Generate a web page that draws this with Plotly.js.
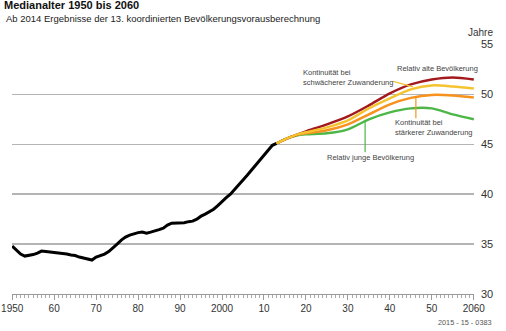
<!DOCTYPE html>
<html>
<head>
<meta charset="utf-8">
<script src="https://cdn.plot.ly/plotly-3.0.1.min.js"></script>
<style>html,body{margin:0;padding:0;background:#fff;}#chart{width:506px;height:331px;}</style>
</head>
<body>
<div id="chart"></div>
<script>
// Historical median age (black)
const histYears = [1950,1951,1952,1953,1954,1955,1956,1957,1958,1959,1960,1961,1962,1963,1964,1965,1966,1967,1968,1969,1970,1971,1972,1973,1974,1975,1976,1977,1978,1979,1980,1981,1982,1983,1984,1985,1986,1987,1988,1989,1990,1991,1992,1993,1994,1995,1996,1997,1998,1999,2000,2001,2002,2003,2004,2005,2006,2007,2008,2009,2010,2011,2012,2013];
const histValues = [34.8,34.4,34.0,33.8,33.85,33.95,34.1,34.3,34.25,34.2,34.15,34.1,34.1,34.0,33.9,33.85,33.7,33.6,33.5,33.4,33.7,33.85,34.0,34.25,34.6,35.0,35.4,35.7,35.9,36.05,36.15,36.2,36.1,36.2,36.3,36.45,36.6,36.9,37.1,37.1,37.1,37.15,37.25,37.3,37.5,37.8,38.0,38.25,38.5,38.85,39.3,39.65,40.0,40.45,40.9,41.4,41.9,42.4,42.9,43.4,43.95,44.45,44.9,45.1];

// Projections
const projYears = [2013,2015,2018,2020,2025,2030,2035,2040,2045,2050,2055,2060];
const oldPop    = [45.1,45.5,46.0,46.3,47.0,47.8,48.9,50.1,51.0,51.5,51.7,51.5];
const lowMig    = [45.1,45.5,46.0,46.2,46.7,47.4,48.6,49.6,50.5,50.9,50.8,50.6];
const highMig   = [45.1,45.5,45.95,46.1,46.4,47.0,48.0,49.0,49.65,49.95,49.9,49.7];
const youngPop  = [45.1,45.5,45.9,46.0,46.1,46.5,47.5,48.2,48.6,48.6,48.0,47.5];

const tickVals = [1950,1960,1970,1980,1990,2000,2010,2020,2030,2040,2050,2060];
const tickText = ["1950","60","70","80","90","2000","10","20","30","40","50","2060"];

const FONT = "'Liberation Sans', Arial, sans-serif";
const cRed = '#a3191d', cYellow = '#f4c430', cOrange = '#f7921e', cGreen = '#4cb748';

const traces = [
  {x: histYears, y: histValues, mode: 'lines', line: {color: '#000', width: 3}},
  {x: projYears, y: youngPop, mode: 'lines', line: {color: cGreen, width: 2.5, shape: 'spline', smoothing: 0.8}},
  {x: projYears, y: highMig, mode: 'lines', line: {color: cOrange, width: 2.5, shape: 'spline', smoothing: 0.8}},
  {x: projYears, y: oldPop, mode: 'lines', line: {color: cRed, width: 2.5, shape: 'spline', smoothing: 0.8}},
  {x: projYears, y: lowMig, mode: 'lines', line: {color: cYellow, width: 2.5, shape: 'spline', smoothing: 0.8}}
];

const layout = {
  width: 506, height: 331,
  margin: {l: 12, r: 32, t: 44, b: 37},
  paper_bgcolor: '#fff', plot_bgcolor: '#fff',
  showlegend: false,
  font: {family: FONT, color: '#333', size: 10},
  title: {text: '<b>Medianalter 1950 bis 2060</b>', x: 4/506, xanchor: 'left', xref: 'container',
          y: 1 - 5.5/331, yanchor: 'middle', yref: 'container',
          font: {family: FONT, size: 11, color: '#111'}},
  xaxis: {
    range: [1949.95, 2060.05], tickvals: tickVals, ticktext: tickText, ticklabeloverflow: 'allow',
    showgrid: false, zeroline: false, showline: true, linecolor: '#999', linewidth: 1,
    ticks: 'outside', ticklen: 5, tickcolor: '#999', tickwidth: 1,
    minor: {dtick: 1, tick0: 1950, ticks: 'outside', ticklen: 2.5, tickcolor: '#aaa', tickwidth: 1, showgrid: false},
    tickfont: {family: FONT, size: 10, color: '#333'}, fixedrange: true
  },
  yaxis: {
    range: [30, 55.05], side: 'right', tickvals: [30,35,40,45,50,55],
    showgrid: true, gridcolor: '#b4b4b4', gridwidth: 1.5, zeroline: false, showline: false,
    ticks: '', ticklabelstandoff: 6,
    tickfont: {family: FONT, size: 11, color: '#333'}, fixedrange: true
  },
  shapes: [
    {type: 'line', xref: 'x', yref: 'y', x0: 2040.8, y0: 51.3, x1: 2045.5, y1: 50.75, line: {color: cYellow, width: 1.2}},
    {type: 'line', xref: 'x', yref: 'y', x0: 2046.2, y0: 49.7, x1: 2046.2, y1: 47.6, line: {color: cOrange, width: 1.2}},
    {type: 'line', xref: 'x', yref: 'y', x0: 2034.1, y0: 47.3, x1: 2034.1, y1: 44.2, line: {color: cGreen, width: 1.2}}
  ],
  annotations: [
    {text: 'Ab 2014 Ergebnisse der 13. koordinierten Bevölkerungsvorausberechnung', xref: 'paper', yref: 'paper',
     x: -8/462, y: (294-19)/250, xanchor: 'left', yanchor: 'middle', showarrow: false,
     font: {family: FONT, size: 9.5, color: '#222'}},
    {text: 'Jahre', xref: 'paper', yref: 'paper', x: (495-12)/462, y: (294-33)/250, xanchor: 'right', yanchor: 'middle',
     showarrow: false, font: {family: FONT, size: 10, color: '#333'}},
    {text: 'Relativ alte Bevölkerung', xref: 'x', yref: 'y', x: 2060, y: 52.6, xanchor: 'right', yanchor: 'middle', xshift: 6,
     showarrow: false, font: {family: FONT, size: 7.5, color: '#444'}},
    {text: 'Kontinuität bei<br>schwächerer Zuwanderung', xref: 'x', yref: 'y', x: 2018.9, y: 51.7, xanchor: 'left', yanchor: 'middle',
     align: 'left', showarrow: false, font: {family: FONT, size: 7.5, color: '#444'}},
    {text: 'Kontinuität bei<br>stärkerer Zuwanderung', xref: 'x', yref: 'y', x: 2040.7, y: 46.7, xanchor: 'left', yanchor: 'middle',
     align: 'left', showarrow: false, font: {family: FONT, size: 7.5, color: '#444'}},
    {text: 'Relativ junge Bevölkerung', xref: 'x', yref: 'y', x: 2024.5, y: 43.7, xanchor: 'left', yanchor: 'middle',
     showarrow: false, font: {family: FONT, size: 7.5, color: '#444'}},
    {text: '2015 - 15 - 0383', xref: 'paper', yref: 'paper', x: (494-12)/462, y: (294-322)/250, xanchor: 'right', yanchor: 'middle',
     showarrow: false, font: {family: FONT, size: 7.3, color: '#555'}}
  ]
};

Plotly.newPlot('chart', traces, layout, {staticPlot: true, displayModeBar: false});
</script>
</body>
</html>
